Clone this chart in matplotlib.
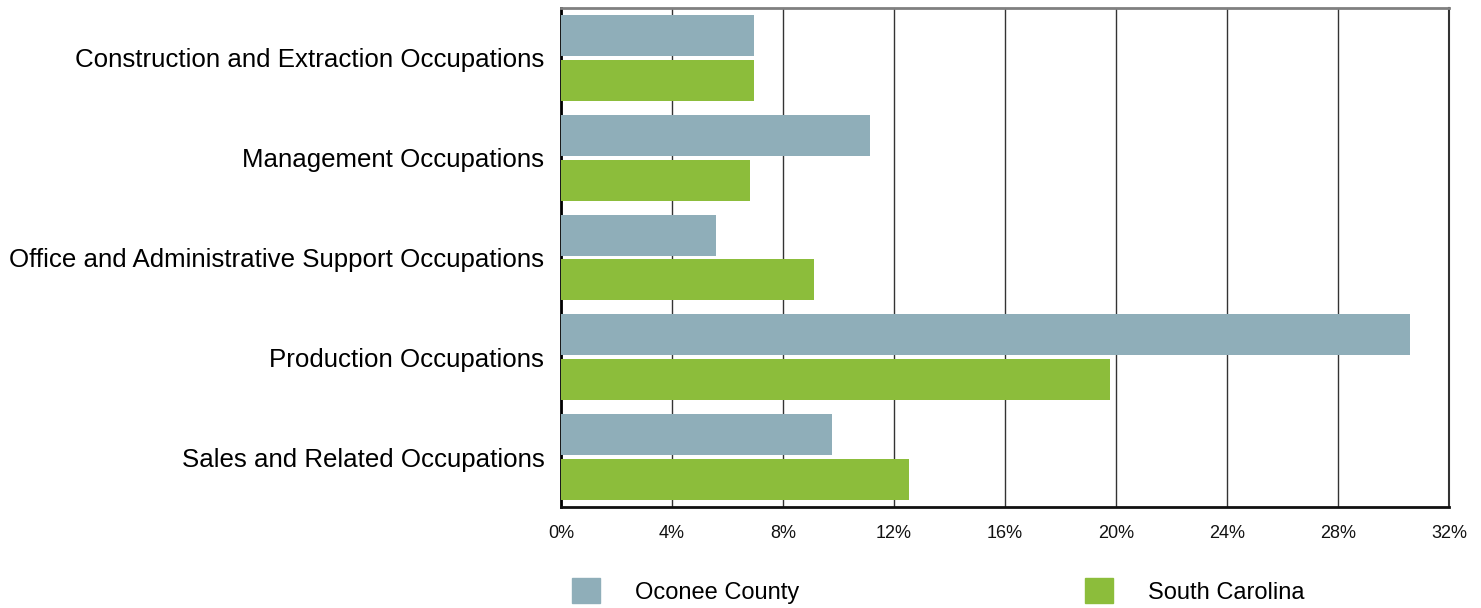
import matplotlib.pyplot as plt
from matplotlib.patches import Patch
from matplotlib.ticker import FuncFormatter
import numpy as np

categories = [
    "Construction and Extraction Occupations",
    "Management Occupations",
    "Office and Administrative Support Occupations",
    "Production Occupations",
    "Sales and Related Occupations",
]
oconee = [6.95, 11.15, 5.6, 30.6, 9.75]
south_carolina = [6.95, 6.8, 9.1, 19.8, 12.55]
x_ticks = [0, 4, 8, 12, 16, 20, 24, 28, 32]

c_oconee = "#8FAEB9"
c_sc = "#8CBD3B"

plt.rcParams["font.family"] = ["Liberation Sans", "DejaVu Sans"]

fig = plt.figure(figsize=(14.81, 6.08), dpi=100)
ax = fig.add_axes([561 / 1481, 1 - 507 / 608, 888 / 1481, 499 / 608])

y = np.arange(len(categories))
bar_h = 0.41
ax.barh(y - 0.225, oconee, height=bar_h, color=c_oconee, zorder=3)
ax.barh(y + 0.225, south_carolina, height=bar_h, color=c_sc, zorder=3)

ax.set_xlim(0, 32)
ax.set_ylim(len(categories) - 0.5, -0.5)
ax.set_xticks(x_ticks)
ax.xaxis.set_major_formatter(FuncFormatter(lambda v, p: f"{v:.0f}%"))
ax.set_yticks(y)
ax.set_yticklabels(categories, fontsize=18.6)
ax.tick_params(axis="x", labelsize=13, length=0, pad=13, colors="#111111")
ax.tick_params(axis="y", length=0, pad=12, colors="#000000")
ax.grid(axis="x", color="#333333", linewidth=1.0, zorder=0)

ax.spines["left"].set_color("#000000")
ax.spines["left"].set_linewidth(2)
ax.spines["bottom"].set_color("#111111")
ax.spines["bottom"].set_linewidth(2)
ax.spines["right"].set_color("#333333")
ax.spines["right"].set_linewidth(1.5)
ax.spines["top"].set_color("#808080")
ax.spines["top"].set_linewidth(2)

legend_kw = dict(frameon=False, fontsize=17, handlelength=1.2, handleheight=1.2,
                 handletextpad=1.45, borderpad=0, borderaxespad=0, loc="center left")
fig.legend(handles=[Patch(color=c_oconee, label="Oconee County")],
           bbox_to_anchor=(572 / 1481, 1 - 591 / 608), **legend_kw)
fig.legend(handles=[Patch(color=c_sc, label="South Carolina")],
           bbox_to_anchor=(1085 / 1481, 1 - 591 / 608), **legend_kw)

fig.savefig("out.png", dpi=100)
